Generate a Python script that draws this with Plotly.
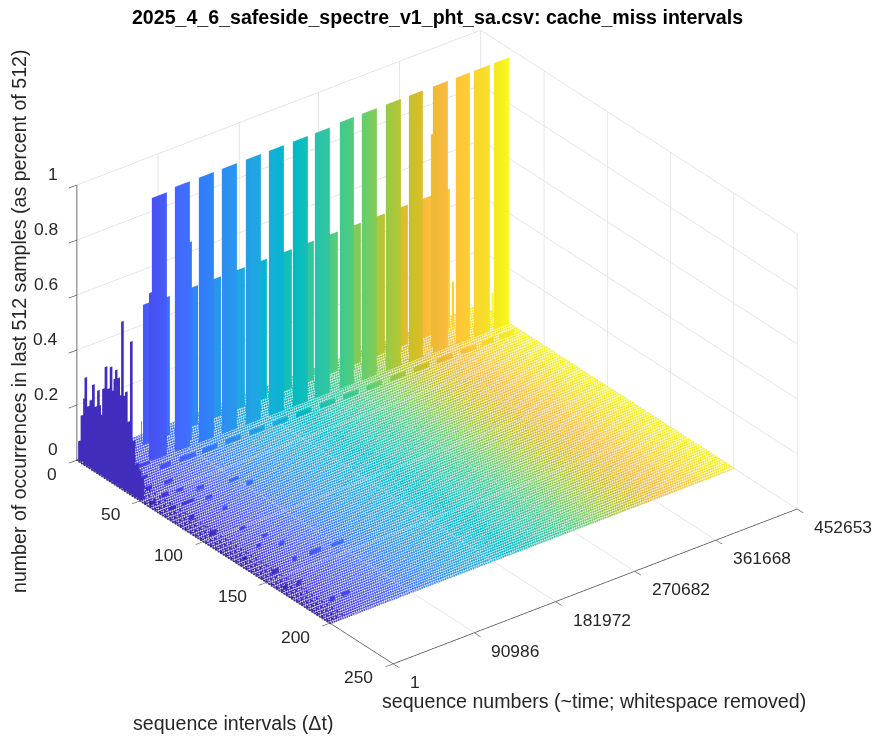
import plotly.graph_objects as go

TITLE = "2025_4_6_safeside_spectre_v1_pht_sa.csv: cache_miss intervals"
Z_TITLE = "number of occurrences in last 512 samples (as percent of 512)"
X_TITLE = "sequence intervals (Δt)"
Y_TITLE = "sequence numbers (~time; whitespace removed)"

interval_ticks = [0, 50, 100, 150, 200, 250]
seq_ticks = [1, 90986, 181972, 270682, 361668, 452653]
z_ticks = [0, 0.2, 0.4, 0.6, 0.8, 1]
z_labels = ["0", "0.2", "0.4", "0.6", "0.8", "1"]
SEQ_MAX = 452653

# tall walls (interval 23)
tall_start = [51540, 77310, 104200, 129970, 156860, 182630, 209530, 234180,
              262180, 286830, 313720, 339490, 366380, 392140, 412320, 434720]
tall_end = [68350, 94120, 121000, 146770, 173660, 199430, 226330, 250990,
            277880, 303650, 330530, 355190, 383190, 407850, 430260, 451520]
tall_height = [0.957, 0.965, 0.965, 0.965, 0.965, 0.965, 0.965, 0.965,
               0.97, 0.97, 0.97, 0.97, 0.97, 0.97, 0.97, 0.97]

# mid walls (interval 8)
mid_start = [62750, 69450, 100860, 126610, 153500, 178130, 206150, 230820,
             257700, 283460, 310350, 336150, 361910, 386000]
mid_end = [71700, 92980, 124390, 150140, 177030, 201660, 229680, 254350,
           281230, 306990, 333880, 359680, 385440, 406710]
mid_height = [0.51, 0.505, 0.505, 0.505, 0.505, 0.505, 0.505, 0.505,
              0.505, 0.505, 0.505, 0.505, 0.505, 0.505]

# low dashes (interval 32)
dash_start = [48000, 70000, 95000, 121000, 148000, 174000, 200000, 227000,
              253000, 279000, 306000, 332000, 358000, 385000, 408000, 428000]
dash_end = [60000, 88000, 112000, 138000, 165000, 191000, 217000, 244000,
            270000, 296000, 323000, 349000, 375000, 402000, 422000, 445000]
dash_height = [0.016] * 16

# narrow extra walls: interval, seq start, seq end, height
narrow_interval = [18, 18, 22, 8, 15, 5]
narrow_start = [101170, 371180, 49650, 409000, 443700, 64900]
narrow_end = [103430, 373440, 55300, 411280, 444900, 65800]
narrow_height = [0.72, 0.775, 0.61, 0.162, 0.1, 0.075]

# spikes at the start of the run
spike_interval = [1, 5, 6, 8, 10, 12, 14, 16, 17, 20, 22, 24, 26, 29, 30, 32, 35, 36.5, 38, 40, 42, 44]
spike_height = [0.071, 0.238, 0.316, 0.218, 0.245, 0.308, 0.234, 0.299, 0.247, 0.317, 0.403,
                0.329, 0.414, 0.38, 0.415, 0.392, 0.606, 0.34, 0.359, 0.257, 0.554, 0.197]
under_interval = [3, 7, 9, 11, 13, 15, 18, 19, 21, 23, 25, 27, 28, 31, 33, 34, 37, 39, 41, 43, 46, 48, 50]
under_height = [0.17, 0.17, 0.16, 0.18, 0.18, 0.19, 0.2, 0.22, 0.26, 0.29, 0.32, 0.33, 0.33, 0.33, 0.33, 0.31,
                0.3, 0.24, 0.18, 0.14, 0.12, 0.1, 0.08]
spike_seq_end = 3000
under_seq_end = 4500

# dark blotches on the floor
blot_interval = [66.6, 59.2, 66.6, 24.8, 18.9, 19.5, 62.8, 70.1, 142, 142.4, 183.2, 126.2, 102.8, 82.3, 121,
                 145.5, 161, 126.8, 97.8, 79.5, 54.2, 34.6, 44.4, 54.8, 161.4, 183.5, 69.1, 115, 141.7, 56.8, 45.1]
blot_seq = [23500, 49800, 9050, 26700, 12700, 22600, 81500, 90500, 59300, 83700, 37100, 48000, 36200, 46200, 29900,
            12200, 2300, 5900, 10000, 13100, 17700, 20800, 14500, 33500, 17700, 23100, 47100, 44800, 40700, 500, 33900]
blot_len = [13000, 9000, 7000, 20000, 11000, 13000, 11000, 7000, 13000, 13000, 9000, 5500, 7000, 5500, 5500,
            8000, 5500, 5500, 8000, 5500, 8000, 9000, 7000, 8000, 5500, 5500, 7000, 5500, 4500, 7000, 9000]

floor_intervals = list(range(0, 201, 2))
floor_seq_count = 190
dense_intervals = list(range(1, 201, 4))
dense_seq = [1500, 6500, 11500, 18000]

parula = [
 [.2422,.1504,.6603],[.2647,.1978,.7952],[.2783,.2559,.8991],[.2813,.3006,.9414],[.2795,.3447,.9717],
 [.2699,.3892,.9906],[.2440,.4358,.9988],[.1963,.4847,.9892],[.1786,.5289,.9682],[.1687,.5703,.9359],
 [.1460,.6091,.9079],[.1248,.6459,.8883],[.0952,.6798,.8598],[.0297,.7082,.8163],[.0067,.7312,.7660],
 [.0964,.7500,.7120],[.1717,.7670,.6554],[.2161,.7843,.5923],[.2906,.7973,.5188],[.3909,.8029,.4354],
 [.5044,.7993,.3480],[.6174,.7876,.2612],[.7242,.7698,.1910],[.8203,.7498,.1535],[.9035,.7330,.1774],
 [.9728,.7298,.2394],[.9970,.7659,.2199],[.9892,.8136,.1885],[.9676,.8639,.1643],[.9597,.9135,.1423],
 [.9769,.9839,.0805]]
colorscale = [[i/(len(parula)-1), "rgb(%d,%d,%d)" % tuple(round(c*255) for c in p)] for i, p in enumerate(parula)]

def walls(rows, cmin=1):
    X, Y, Z, I, J, K = [], [], [], [], [], []
    for itv, s0, s1, h in rows:
        n = len(X)
        X += [itv]*4
        Y += [s0, s1, s1, s0]
        Z += [0, 0, h, h]
        I += [n, n]; J += [n+1, n+2]; K += [n+2, n+3]
    return go.Mesh3d(x=X, y=Y, z=Z, i=I, j=J, k=K, intensity=Y, colorscale=colorscale,
                     cmin=cmin, cmax=SEQ_MAX, showscale=False, flatshading=True,
                     lighting=dict(ambient=1, diffuse=0, specular=0, roughness=1, fresnel=0),
                     hoverinfo="skip")

rows = []
rows += [(23, a, b, h) for a, b, h in zip(tall_start, tall_end, tall_height)]
rows += [(8, a, b, h) for a, b, h in zip(mid_start, mid_end, mid_height)]
rows += [(32, a, b, h) for a, b, h in zip(dash_start, dash_end, dash_height)]
rows += [r for r in zip(narrow_interval, narrow_start, narrow_end, narrow_height)]
rows += [(i, s, s + l, 0.016) for i, s, l in zip(blot_interval, blot_seq, blot_len)]

spikes = [(i, 1, spike_seq_end, h) for i, h in zip(spike_interval, spike_height)]
spikes += [(i, 1, under_seq_end, h) for i, h in zip(under_interval, under_height)]

fx, fy, fz = [], [], []
for c in range(floor_seq_count):
    s = 1 + (SEQ_MAX-1)*c/(floor_seq_count-1)
    for i in floor_intervals:
        fx.append(i); fy.append(s); fz.append(0)
for s in dense_seq:
    for i in dense_intervals:
        fx.append(i); fy.append(s); fz.append(0)

fig = go.Figure()
fig.add_trace(go.Scatter3d(x=fx, y=fy, z=fz, mode="markers",
    marker=dict(size=1.25, color=fy, colorscale=colorscale, cmin=1, cmax=SEQ_MAX, line=dict(width=0)),
    hoverinfo="skip", showlegend=False))
fig.add_trace(walls(rows))
fig.add_trace(walls(spikes, cmin=-10000))

W, H = 874, 737
tick_font = dict(family="Liberation Sans", size=17.4, color="#262626")
title_font = dict(family="Liberation Sans", size=19.6, color="#262626")
def axis(vals, rng, line="#555555", lw=1.5):
    return dict(range=rng, tickmode="array", tickvals=vals, showticklabels=False,
                title=dict(text=""), showbackground=False, showgrid=True, gridcolor="#dcdcdc", gridwidth=1.5,
                zeroline=False, showline=True, linecolor=line, linewidth=lw, ticks="outside",
                ticklen=10, tickcolor="#555555", tickwidth=1.5, showspikes=False)

def note(text, x, y, **kw):
    return dict(text=text, x=x/W, y=1-y/H, xref="paper", yref="paper", xanchor="center", yanchor="middle",
                showarrow=False, font=title_font, **kw)

def scene_label(x, y, z, text, xanchor, xshift, yshift):
    return dict(x=x, y=y, z=z, text=text, showarrow=False, xanchor=xanchor, yanchor="middle",
                xshift=xshift, yshift=yshift, font=tick_font)

labels = []
for v in interval_ticks:
    labels.append(scene_label(v, 1, 0, str(v), "right", -18, -13.5))
for v in seq_ticks:
    labels.append(scene_label(250, v, 0, str(v), "left", 15, -18))
for v, t in zip(z_ticks, z_labels):
    labels.append(scene_label(0, 1, v, t, "right", -17, 11))

SX, SZ = 1.479*1.033, 1.479*1.018
fig.update_layout(
    width=W, height=H, margin=dict(l=0, r=0, t=0, b=0), paper_bgcolor="white",
    title=dict(text="<b>%s</b>" % TITLE, x=437.5/W, xanchor="center", xref="paper", y=1-17/H, yanchor="middle",
               font=dict(family="Liberation Sans", size=19.6, color="black")),
    scene=dict(
        domain=dict(x=[0, 1], y=[51/H, 729/H]),
        xaxis=axis(interval_ticks, [0, 250], "#444444"),
        yaxis=axis(seq_ticks, [1, SEQ_MAX], "#444444"),
        zaxis=axis(z_ticks, [0, 1], "#808080", 2.5),
        aspectmode="manual", aspectratio=dict(x=1*SX, y=0.985*SX, z=0.621*SZ),
        camera=dict(projection=dict(type="orthographic"), up=dict(x=0, y=0, z=1),
                    center=dict(x=0, y=0, z=0), eye=dict(x=1.374, y=-1.06, z=0.994)),
        annotations=labels,
    ),
    annotations=[
        note(Z_TITLE, 19, 322, textangle=-90),
        note(X_TITLE, 233, 723),
        note(Y_TITLE, 594, 701),
    ],
)
fig.write_html("out.html", config=dict(displayModeBar=False),
               post_script="document.body.style.margin='0';")
